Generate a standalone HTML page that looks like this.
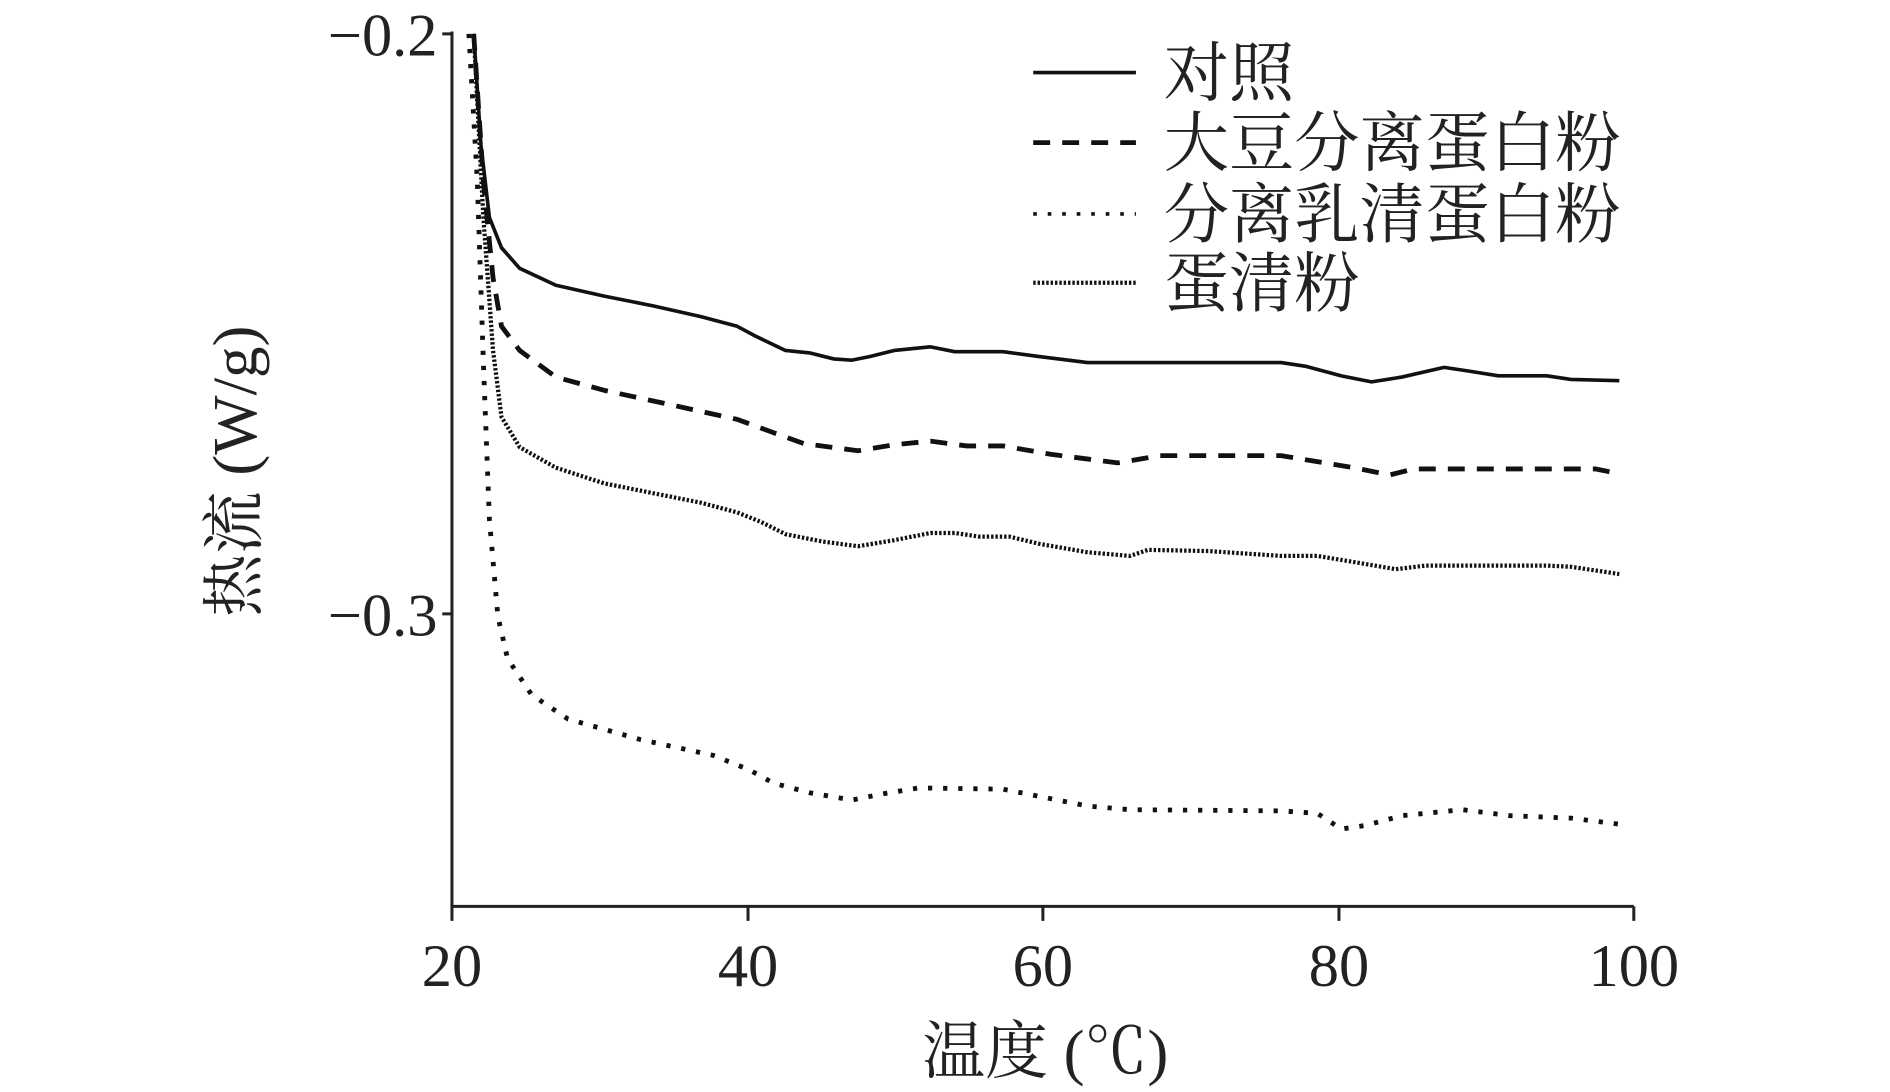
<!DOCTYPE html>
<html><head><meta charset="utf-8"><style>
html,body{margin:0;padding:0;background:#fff;}
svg{display:block;}
text{font-family:"Liberation Serif","Noto Serif CJK SC","Noto Sans CJK SC",serif;fill:#222;}
</style></head><body>
<svg width="1890" height="1092" viewBox="0 0 1564 903.6" xmlns="http://www.w3.org/2000/svg">
<g stroke="#222" fill="none" stroke-width="2.5">
<path d="M374 26 V750 H1352"/>
<path d="M366 28 H374 M366 508 H374"/>
<path d="M374 750 V762 M619 750 V762 M863 750 V762 M1108 750 V762 M1352 750 V762"/>
</g>
<g font-size="50" text-anchor="middle">
<text x="374" y="816">20</text><text x="619" y="816">40</text><text x="863" y="816">60</text><text x="1108" y="816">80</text><text x="1352" y="816">100</text>
</g>
<g font-size="50" text-anchor="end">
<text x="362" y="46">−0.2</text><text x="362" y="526">−0.3</text>
</g>
<text x="865" y="888" font-size="52" text-anchor="middle">温度 (℃)</text>
<text transform="translate(212,390) rotate(-90)" font-size="52" text-anchor="middle">热流 (W/g)</text>
<g fill="none" stroke="#111" stroke-linejoin="round">
<polyline stroke-width="3" points="392,28 398,120 405,180 415,205 430,222 460,236 500,245 540,253 580,262 610,270 625,278 650,290 670,292 690,297 705,298 720,295 740,290 770,287 790,291 830,291 860,295 900,300 1000,300 1060,300 1080,303 1110,311 1135,316 1160,312 1195,304 1215,307 1240,311 1280,311 1300,314 1340,315"/>
<polyline stroke-width="4" stroke-dasharray="14 10" points="392,28 400,150 408,230 415,270 430,290 460,312 500,323 560,336 610,347 640,358 665,367 710,373 740,368 770,365 800,369 830,369 870,376 925,383 960,377 1060,377 1090,382 1120,387 1150,393 1170,388 1250,388 1320,388 1340,392"/>
<polyline stroke-width="3.5" stroke-dasharray="2 1.6" points="392,28 400,180 408,290 415,345 430,370 460,387 500,400 540,408 580,416 610,424 630,432 650,442 680,448 710,452 740,447 770,441 790,441 810,444 835,444 860,450 900,457 935,460 950,455 1000,456 1060,460 1090,460 1120,465 1155,471 1180,468 1280,468 1300,469 1340,475"/>
<polyline stroke-width="4" stroke-dasharray="3.5 9" points="388,28 395,150 400,300 405,430 412,510 420,545 440,575 470,595 530,612 590,625 620,637 640,648 670,656 705,662 730,657 760,652 830,653 860,659 900,667 935,670 1060,671 1090,673 1110,686 1130,683 1160,675 1210,670 1250,675 1300,677 1340,682"/>
</g>
<g fill="none" stroke="#111">
<line x1="855" y1="60" x2="940" y2="60" stroke-width="3"/>
<line x1="855" y1="118" x2="940" y2="118" stroke-width="4" stroke-dasharray="14 10"/>
<line x1="855" y1="177" x2="940" y2="177" stroke-width="3" stroke-dasharray="3 9"/>
<line x1="855" y1="234" x2="940" y2="234" stroke-width="3.5" stroke-dasharray="2 1.6"/>
</g>
<g font-size="54">
<text x="963" y="79">对照</text>
<text x="963" y="137">大豆分离蛋白粉</text>
<text x="963" y="196">分离乳清蛋白粉</text>
<text x="963" y="253">蛋清粉</text>
</g>
</svg>
</body></html>
